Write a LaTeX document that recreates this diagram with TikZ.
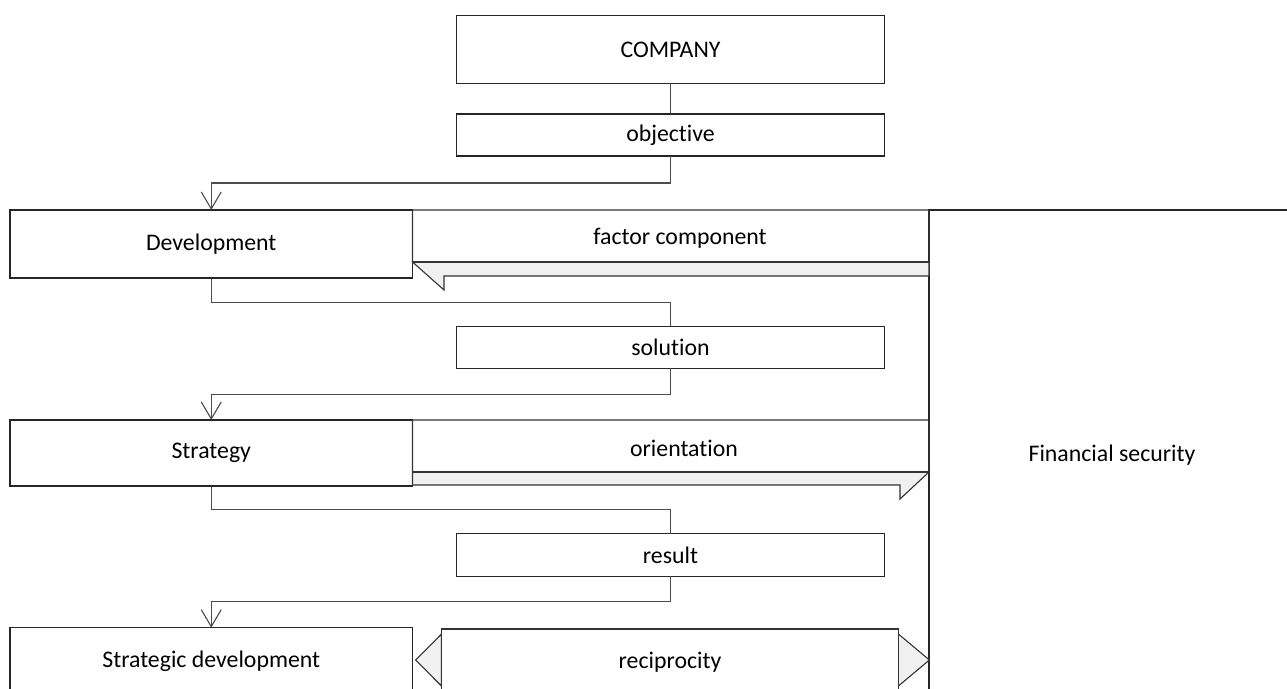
\documentclass[tikz,border=0pt]{standalone}
\usepackage{fontspec}
\setmainfont{Carlito}[Ligatures=NoCommon]
\usetikzlibrary{arrows.meta,calc}
\begin{document}
\begin{tikzpicture}[x=1pt,y=-1pt,
  box/.style={draw=black!85, line width=1.1pt, fill=white, inner sep=0pt, outer sep=0pt, font=\fontsize{23.8}{28}\selectfont},
  lbl/.style={inner sep=0pt, font=\fontsize{23.8}{28}\selectfont},
  conn/.style={draw=black!70, line width=1.1pt},
  arr/.style={conn, -{Straight Barb[length=17pt,width=20pt]}},
  band/.style={draw=black!80, line width=1.1pt},
  bandfill/.style={fill=black!6},
]
\useasboundingbox (0,0) rectangle (1287,688);
\clip (0,0) rectangle (1287,688);
\fill[white] (0,0) rectangle (1287,688);

% right panel
\node[box, minimum width=366, minimum height=490] (fin) at (1112,455) {Financial security};

% main column boxes
\node[box, minimum width=428, minimum height=67.6] (company) at (670.5,49.5) {COMPANY};
\node[box, minimum width=428, minimum height=42] (objective) at (670.5,135) {objective};
\node[box, minimum width=402.5, minimum height=68] (dev) at (211.25,244) {Development};
\node[box, minimum width=428, minimum height=42] (solution) at (670.5,347.3) {solution};
\node[box, minimum width=402.5, minimum height=66] (strategy) at (211.25,453) {Strategy};
\node[box, minimum width=428, minimum height=42.3] (result) at (670.5,554.9) {result};
\node[box, minimum width=402.5, minimum height=68] (sdev) at (211.25,661.7) {Strategic development};

% factor component band (arrow pointing left)
\fill[bandfill] (412.5,262) -- (929,262) -- (929,276) -- (444,276) -- (444,290) -- cycle;
\draw[band] (412.5,262) -- (412.5,210) -- (929,210) -- (929,276) -- (444,276) -- (444,290) -- cycle;
\draw[band] (412.5,262) -- (929,262);
\node[lbl] (factor) at (680,238) {factor component};

% orientation band (arrow pointing right)
\fill[bandfill] (412.5,472) -- (929,472) -- (900,499) -- (900,485) -- (412.5,485) -- cycle;
\draw[band] (412.5,485) -- (412.5,420) -- (929,420) -- (929,472) -- (900,499) -- (900,485) -- cycle;
\draw[band] (412.5,472) -- (929,472);
\node[lbl] (orient) at (684,448) {orientation};

% reciprocity (double arrow)
\filldraw[band, bandfill] (441.5,634) -- (415.6,660) -- (441.5,686) -- cycle;
\filldraw[band, bandfill] (898.4,634) -- (929.4,660) -- (898.4,686) -- cycle;
\draw[band, fill=white] (441.5,629) rectangle (898.4,697);
\node[lbl] (recip) at (670,662) {reciprocity};

% connectors
\draw[conn] (company.south) -- (objective.north);
\draw[arr] (objective.south) |- ($(objective.south)!.5!(dev.north)$) -| (dev.north);
\draw[conn] (dev.south) |- ($(dev.south)!.5!(solution.north)$) -| (solution.north);
\draw[arr] (solution.south) |- ($(solution.south)!.5!(strategy.north)$) -| (strategy.north);
\draw[conn] (strategy.south) |- ($(strategy.south)!.5!(result.north)$) -| (result.north);
\draw[arr] (result.south) |- ($(result.south)!.5!(sdev.north)$) -| (sdev.north);
\end{tikzpicture}
\end{document}
